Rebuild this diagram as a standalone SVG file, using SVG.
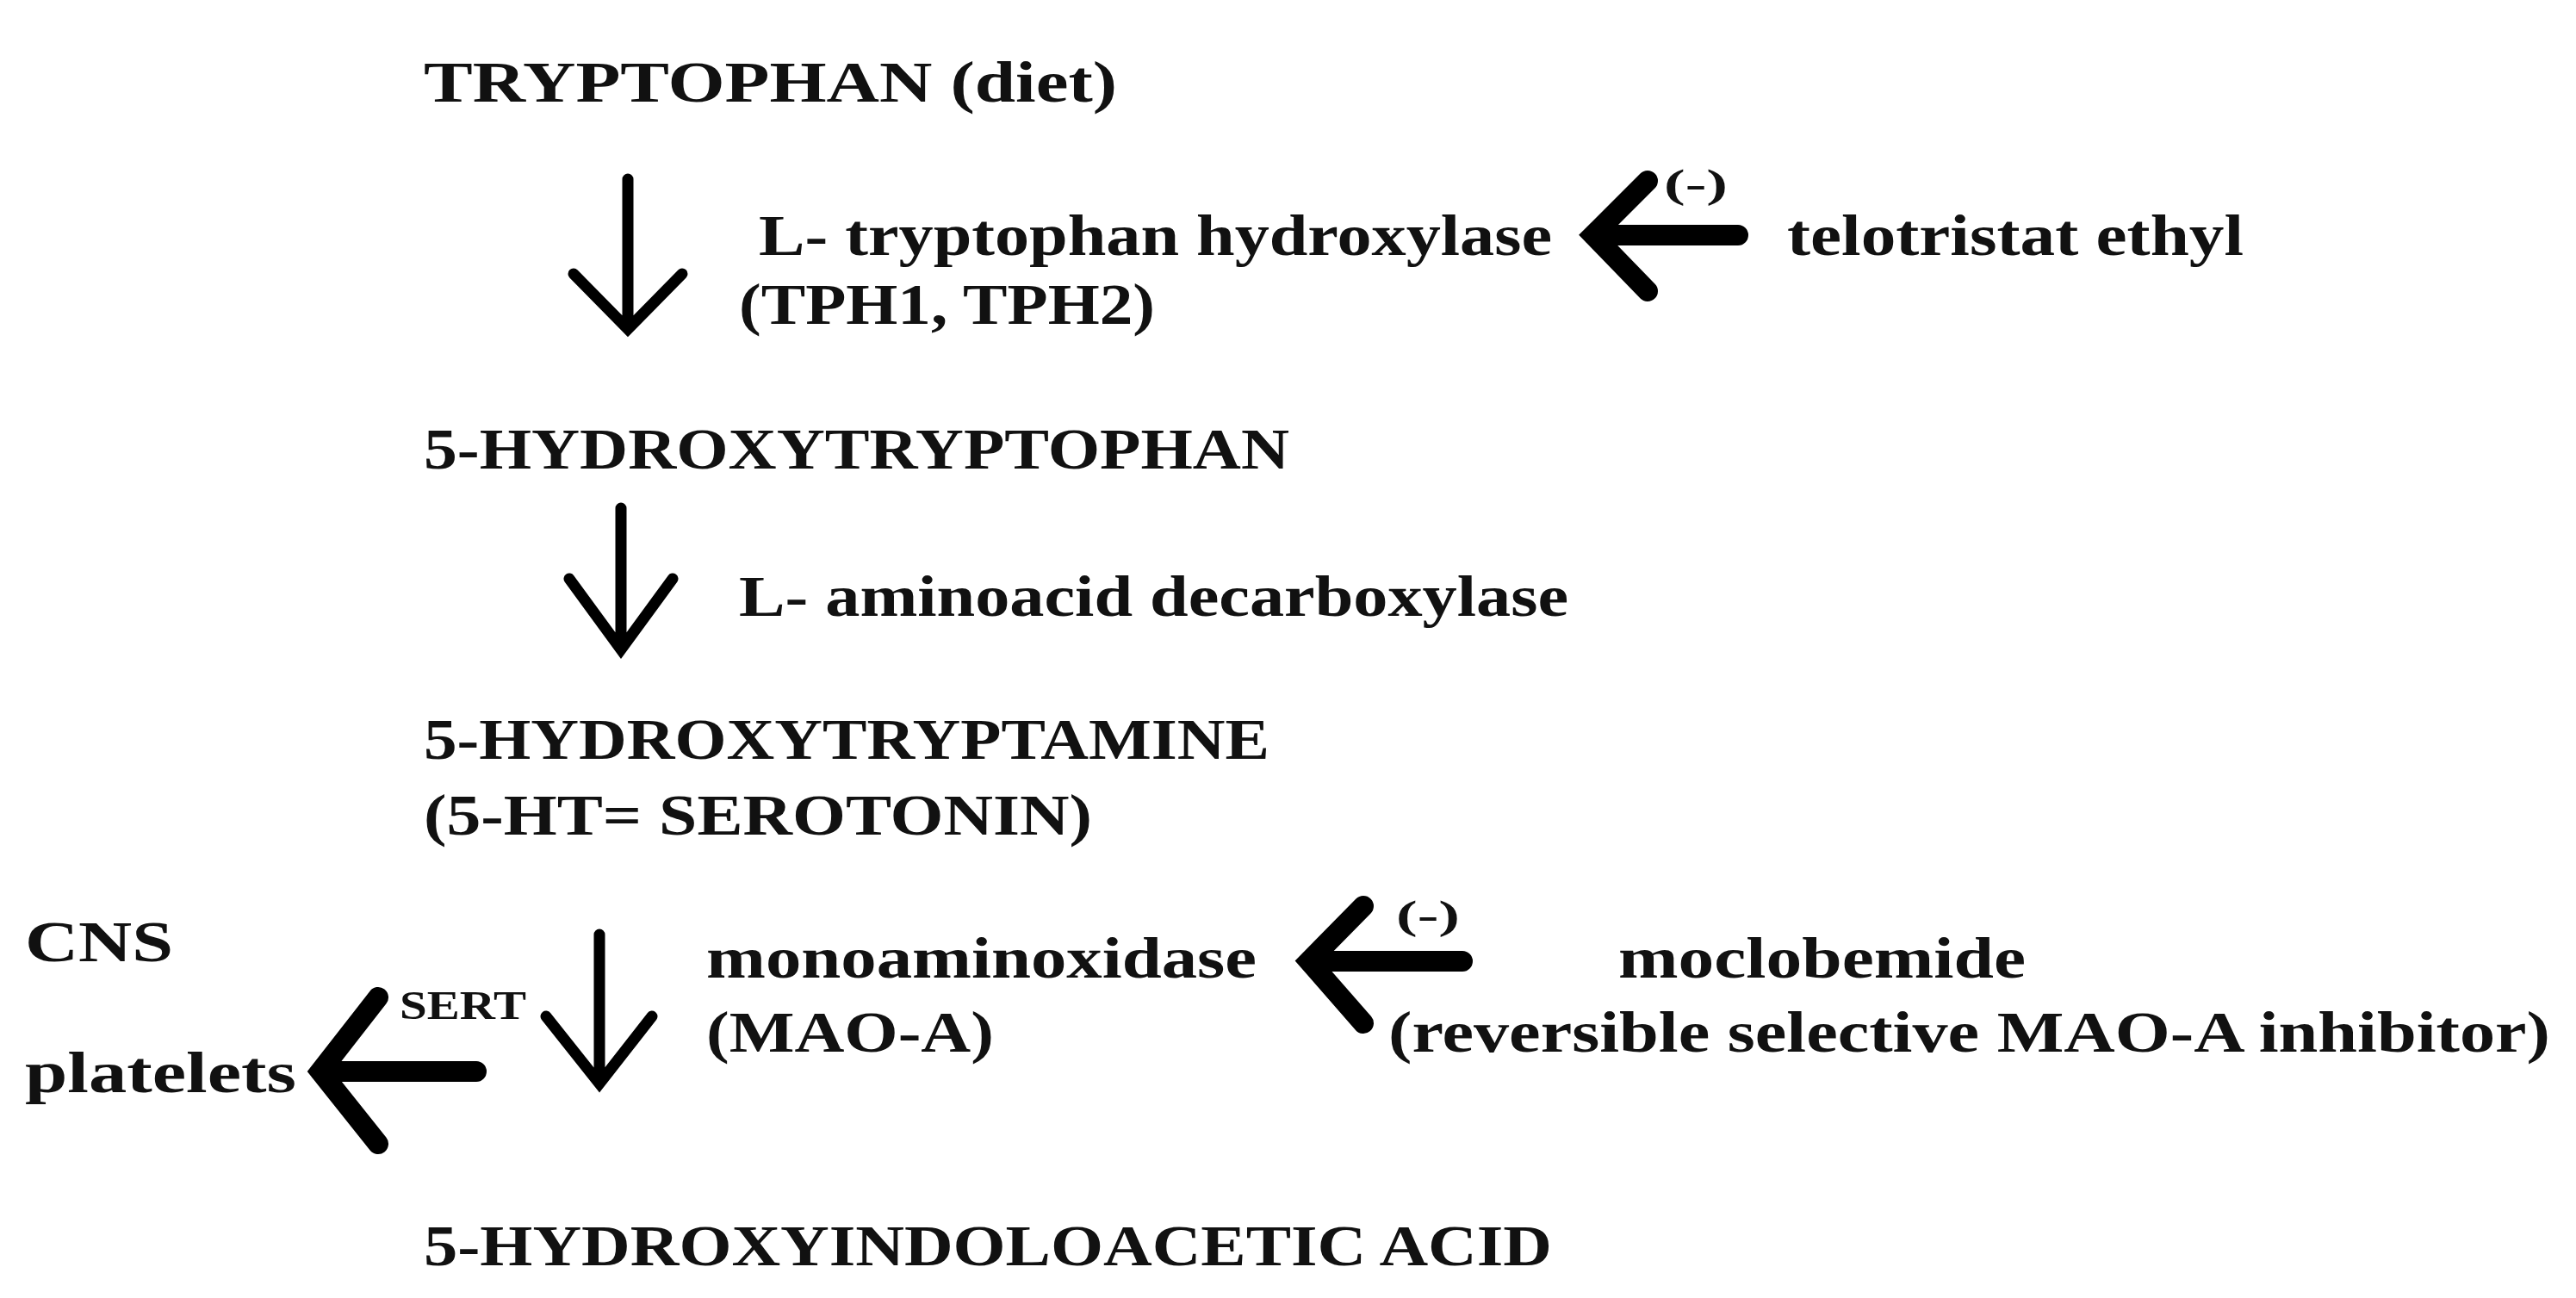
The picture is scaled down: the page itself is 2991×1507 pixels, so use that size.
<svg xmlns="http://www.w3.org/2000/svg" width="2991" height="1507" viewBox="0 0 2991 1507">
<style>
text{font-family:"Liberation Serif","DejaVu Serif",serif;font-weight:bold;fill:#111;font-size:68px}
.s{font-size:46px}
.d{fill:none;stroke:#000;stroke-width:13;stroke-linecap:round;stroke-linejoin:miter}
.t{fill:none;stroke:#000;stroke-width:24;stroke-linecap:round;stroke-linejoin:miter}
</style>
<rect width="2991" height="1507" fill="#fff"/>
<g id="trp"><text x="492" y="118" textLength="805" lengthAdjust="spacingAndGlyphs">TRYPTOPHAN (diet)</text></g>
<g id="tph"><text x="881" y="296" textLength="921" lengthAdjust="spacingAndGlyphs">L- tryptophan hydroxylase</text><text x="858" y="376" textLength="483" lengthAdjust="spacingAndGlyphs">(TPH1, TPH2)</text></g>
<g id="telo"><text x="2075" y="296" textLength="530" lengthAdjust="spacingAndGlyphs">telotristat ethyl</text></g>
<g id="htp"><text x="492" y="544" textLength="1005" lengthAdjust="spacingAndGlyphs">5-HYDROXYTRYPTOPHAN</text></g>
<g id="aadc"><text x="858" y="715" textLength="963" lengthAdjust="spacingAndGlyphs">L- aminoacid decarboxylase</text></g>
<g id="ht"><text x="492" y="881" textLength="982" lengthAdjust="spacingAndGlyphs">5-HYDROXYTRYPTAMINE</text><text x="492" y="969" textLength="776" lengthAdjust="spacingAndGlyphs">(5-HT= SEROTONIN)</text></g>
<g id="mao"><text x="820" y="1135" textLength="639" lengthAdjust="spacingAndGlyphs">monoaminoxidase</text><text x="820" y="1221" textLength="334" lengthAdjust="spacingAndGlyphs">(MAO-A)</text></g>
<g id="moclo"><text x="1879" y="1135" textLength="473" lengthAdjust="spacingAndGlyphs">moclobemide</text><text x="1612" y="1221" textLength="1349" lengthAdjust="spacingAndGlyphs">(reversible selective MAO-A inhibitor)</text></g>
<g id="cns"><text x="29" y="1116" textLength="172" lengthAdjust="spacingAndGlyphs">CNS</text><text x="29" y="1268" textLength="315" lengthAdjust="spacingAndGlyphs">platelets</text></g>
<g id="hiaa"><text x="492" y="1469" textLength="1310" lengthAdjust="spacingAndGlyphs">5-HYDROXYINDOLOACETIC ACID</text></g>
<g id="connectors">
<path class="d" d="M729 208V380M666 318L729 382L792 318"/>
<path class="d" d="M721 590V752M661 672L721 754L781 672"/>
<path class="d" d="M696 1085V1256M634 1180L696 1258L757 1180"/>
<path class="t" d="M2018 273H1850M1913 210L1850 273L1913 338"/>
<path class="t" d="M1698 1116H1520M1583 1052L1520 1116L1583 1188"/>
<path class="t" d="M553 1244H372M439 1158L372 1244L439 1328"/>
<text class="s" x="1932" y="229" textLength="74" lengthAdjust="spacingAndGlyphs">(-)</text>
<text class="s" x="1621" y="1078" textLength="74" lengthAdjust="spacingAndGlyphs">(-)</text>
<text class="s" x="464" y="1183" textLength="147" lengthAdjust="spacingAndGlyphs">SERT</text>
</g>
</svg>
